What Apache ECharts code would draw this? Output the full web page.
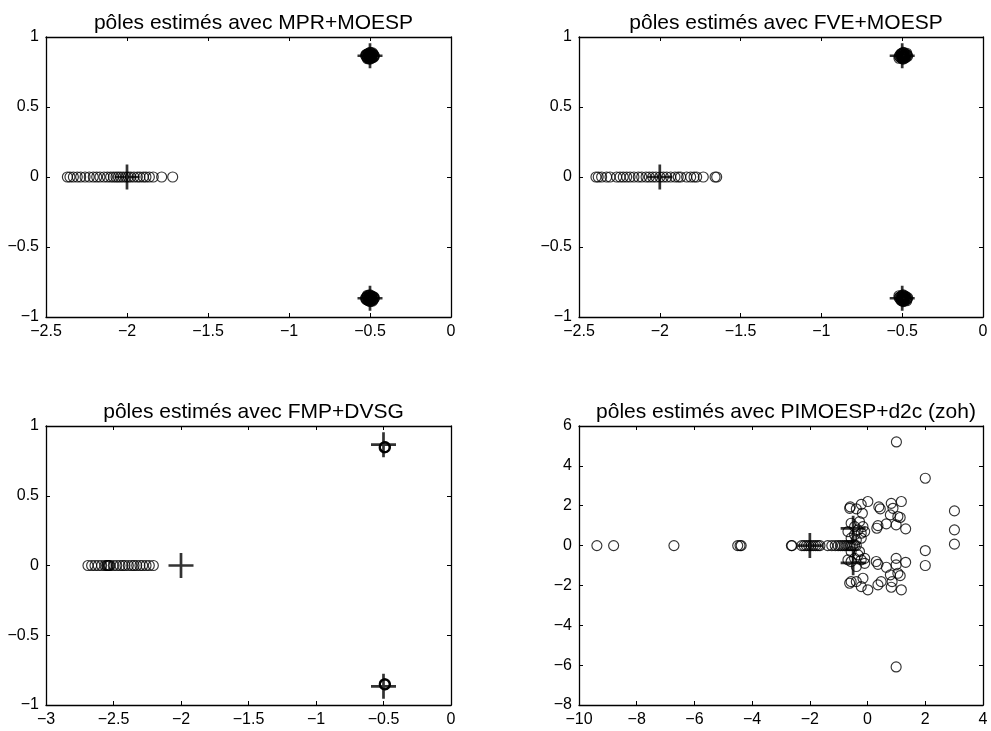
<!DOCTYPE html>
<html>
<head>
<meta charset="utf-8">
<script src="https://cdn.jsdelivr.net/npm/echarts@6/dist/echarts.min.js"></script>
<style>
html, body { margin: 0; background: #fff; }
#chart { width: 991px; height: 731px; }
</style>
</head>
<body>
<div id="chart"></div>
<script>
// poles vrais du systeme
const polesVrais = [[-2, 0], [-0.5, 0.866], [-0.5, -0.866]]

const titres = [
    'pôles estimés avec MPR+MOESP',
    'pôles estimés avec FVE+MOESP',
    'pôles estimés avec FMP+DVSG',
    'pôles estimés avec PIMOESP+d2c (zoh)'
]

// MPR+MOESP
const mprReels = [-2.368, -2.352, -2.331, -2.307, -2.286, -2.259, -2.233, -2.208, -2.187, -2.167,
    -2.142, -2.121, -2.101, -2.084, -2.068, -2.054, -2.039, -2.023, -2.006, -1.992,
    -1.977, -1.957, -1.936, -1.920, -1.899, -1.883, -1.862, -1.838, -1.786, -1.718]
const mprComplexes = [
    [-0.500, 0.866], [-0.506, 0.873], [-0.494, 0.859], [-0.513, 0.866], [-0.488, 0.866], [-0.500, 0.880],
    [-0.500, 0.852], [-0.519, 0.873], [-0.481, 0.859], [-0.506, 0.845], [-0.494, 0.887], [-0.513, 0.880],
    [-0.488, 0.852], [-0.525, 0.862], [-0.475, 0.870], [-0.506, 0.859], [-0.494, 0.873], [-0.519, 0.855],
    [-0.481, 0.877], [-0.500, 0.890], [-0.500, 0.842], [-0.513, 0.852], [-0.488, 0.880], [-0.527, 0.870],
    [-0.473, 0.862], [-0.509, 0.884], [-0.491, 0.848], [-0.516, 0.845], [-0.484, 0.887], [-0.497, 0.869],
    [-0.503, 0.863], [-0.522, 0.877], [-0.478, 0.855],
    [-0.500, -0.866], [-0.506, -0.873], [-0.494, -0.859], [-0.513, -0.866], [-0.488, -0.866], [-0.500, -0.880],
    [-0.500, -0.852], [-0.519, -0.873], [-0.481, -0.859], [-0.506, -0.845], [-0.494, -0.887], [-0.513, -0.880],
    [-0.488, -0.852], [-0.525, -0.862], [-0.475, -0.870], [-0.506, -0.859], [-0.494, -0.873], [-0.519, -0.855],
    [-0.481, -0.877], [-0.500, -0.890], [-0.500, -0.842], [-0.513, -0.852], [-0.488, -0.880], [-0.527, -0.868],
    [-0.473, -0.862], [-0.509, -0.884], [-0.491, -0.848], [-0.516, -0.845], [-0.484, -0.887], [-0.497, -0.869],
    [-0.503, -0.863], [-0.522, -0.877], [-0.478, -0.855]
]

// FVE+MOESP
const fveReels = [-2.395, -2.381, -2.360, -2.329, -2.308, -2.267, -2.246, -2.226, -2.205, -2.184,
    -2.160, -2.133, -2.112, -2.085, -2.065, -2.044, -2.024, -1.999, -1.978, -1.957,
    -1.933, -1.906, -1.886, -1.871, -1.834, -1.809, -1.788, -1.772, -1.731, -1.658, -1.648]
const fveComplexes = [
    [-0.494, 0.866], [-0.500, 0.873], [-0.488, 0.859], [-0.506, 0.866], [-0.481, 0.866], [-0.494, 0.880],
    [-0.494, 0.852], [-0.513, 0.873], [-0.475, 0.859], [-0.500, 0.845], [-0.488, 0.887], [-0.506, 0.880],
    [-0.481, 0.852], [-0.519, 0.862], [-0.469, 0.870], [-0.500, 0.859], [-0.488, 0.873], [-0.513, 0.855],
    [-0.475, 0.877], [-0.494, 0.890], [-0.494, 0.842], [-0.507, 0.852], [-0.482, 0.880], [-0.520, 0.848],
    [-0.466, 0.862], [-0.503, 0.884], [-0.485, 0.848], [-0.472, 0.884], [-0.491, 0.869], [-0.497, 0.863],
    [-0.494, -0.866], [-0.500, -0.873], [-0.488, -0.859], [-0.506, -0.866], [-0.481, -0.866], [-0.494, -0.880],
    [-0.494, -0.852], [-0.513, -0.873], [-0.475, -0.859], [-0.500, -0.845], [-0.488, -0.887], [-0.506, -0.880],
    [-0.481, -0.852], [-0.519, -0.862], [-0.469, -0.870], [-0.500, -0.859], [-0.488, -0.873], [-0.513, -0.855],
    [-0.475, -0.877], [-0.494, -0.890], [-0.494, -0.842], [-0.507, -0.852], [-0.482, -0.880], [-0.520, -0.848],
    [-0.466, -0.862], [-0.503, -0.884], [-0.485, -0.848], [-0.472, -0.884], [-0.491, -0.869], [-0.497, -0.863]
]

// FMP+DVSG
const fmpReels = [-2.689, -2.662, -2.637, -2.613, -2.588, -2.563, -2.551, -2.545, -2.538, -2.532,
    -2.526, -2.501, -2.476, -2.452, -2.432, -2.415, -2.390, -2.365, -2.348, -2.328,
    -2.304, -2.284, -2.259, -2.235, -2.205]
const fmpComplexes = [
    [-0.49, 0.848], [-0.495, 0.843], [-0.487, 0.852], [-0.492, 0.846], [-0.489, 0.85], [-0.486, 0.845],
    [-0.494, 0.851],
    [-0.49, -0.852], [-0.494, -0.848], [-0.487, -0.856], [-0.491, -0.85], [-0.489, -0.854], [-0.486, -0.849],
    [-0.494, -0.855]
]

// PIMOESP+d2c (zoh)
const pimReels = [-9.38, -8.80, -6.71, -4.50, -4.42, -4.38, -2.64, -2.62, -2.28, -2.20,
    -2.12, -2.04, -1.96, -1.88, -1.80, -1.72, -1.65, -1.38, -1.24, -1.12, -1.02, -0.94,
    -0.87, -0.80, -0.74, -0.68, -0.62, -0.57, -0.51, -0.45, -0.39]
const pimComplexes = [
    [1.0, 5.2], [2.0, 3.38], [3.01, 1.74], [3.01, 0.79], [3.01, 0.07], [2.0, -0.25], [2.0, -1.0], [0.99, -6.09],
    [-0.62, 1.87], [-0.60, 1.94], [-0.39, 1.84], [-0.22, 2.07], [-0.18, 1.62], [0.01, 2.21],
    [0.39, 1.94], [0.44, 1.84], [0.32, 0.87], [0.36, 1.0], [0.65, 1.09], [0.82, 2.12],
    [0.88, 1.87], [0.79, 1.54], [1.05, 1.46], [1.13, 1.41], [1.17, 2.21], [0.99, 1.04], [1.32, 0.84],
    [-0.57, 1.12], [-0.45, 0.95], [-0.33, 0.79], [-0.22, 0.62], [-0.16, 0.95], [-0.10, 0.70],
    [-0.28, 1.20], [-0.45, 0.54], [-0.57, 0.37], [-0.39, 0.28], [-0.22, 0.37], [-0.68, 0.70],
    [-0.62, -1.89], [-0.57, -1.81], [-0.39, -1.81], [-0.22, -2.06], [-0.16, -1.64], [0.01, -2.22],
    [0.36, -1.97], [0.47, -1.81], [0.30, -0.80], [0.36, -0.94], [0.65, -1.09], [0.82, -2.09],
    [0.85, -1.81], [0.79, -1.47], [1.05, -1.39], [1.13, -1.51], [1.17, -2.22], [0.99, -0.64],
    [1.32, -0.84], [0.99, -0.97],
    [-0.57, -0.80], [-0.45, -0.64], [-0.33, -0.47], [-0.22, -0.72], [-0.10, -0.64], [-0.39, -1.05],
    [-0.57, -0.30], [-0.28, -0.30], [-0.68, -0.72], [-0.10, -0.89]
]

// axes de chaque sous-figure: [xmin, xmax, xpas, ymin, ymax, ypas]
const limites = [
    [-2.5, 0, 0.5, -1, 1, 0.5],
    [-2.5, 0, 0.5, -1, 1, 0.5],
    [-3, 0, 0.5, -1, 1, 0.5],
    [-10, 4, 2, -8, 6, 2]
]
const estimes = [
    [mprReels, mprComplexes],
    [fveReels, fveComplexes],
    [fmpReels, fmpComplexes],
    [pimReels, pimComplexes]
]

const grilles = [
    { left: 46, top: 37, width: 405, height: 280 },
    { left: 579, top: 37, width: 404, height: 280 },
    { left: 46, top: 426, width: 405, height: 279 },
    { left: 579, top: 426, width: 404, height: 279 }
]

const police = 'Liberation Sans, Arial, Helvetica, sans-serif'
const moins = v => String(v).replace('-', '\u2212')
const croix = 'path://M-1.3,-12L1.3,-12L1.3,-1.3L12,-1.3L12,1.3L1.3,1.3L1.3,12L-1.3,12L-1.3,1.3L-12,1.3L-12,-1.3L-1.3,-1.3Z'

let myChart = echarts.init(document.getElementById('chart'), null, {
    renderer: 'canvas'
})

function axe(gi, min, max, interval, position, label) {
    return {
        gridIndex: gi,
        type: 'value',
        min: min,
        max: max,
        interval: interval,
        position: position,
        axisLine: { show: true, onZero: false, lineStyle: { color: '#000', width: 1.3 } },
        axisTick: { show: true, inside: true, length: 4, lineStyle: { color: '#000', width: 1 } },
        axisLabel: {
            show: label,
            margin: 7,
            color: '#000',
            fontSize: 16,
            fontFamily: police,
            formatter: moins
        },
        splitLine: { show: false }
    }
}

let xAxes = []
let yAxes = []
let series = []
let titresOpt = []

grilles.forEach((g, i) => {
    let l = limites[i]
    xAxes.push(axe(i, l[0], l[1], l[2], 'bottom', true))
    xAxes.push(axe(i, l[0], l[1], l[2], 'top', false))
    yAxes.push(axe(i, l[3], l[4], l[5], 'left', true))
    yAxes.push(axe(i, l[3], l[4], l[5], 'right', false))

    let points = estimes[i][0].map(x => [x, 0]).concat(estimes[i][1])
    series.push({
        type: 'scatter',
        xAxisIndex: 2 * i,
        yAxisIndex: 2 * i,
        symbol: 'circle',
        symbolSize: 10,
        itemStyle: { color: 'rgba(0,0,0,0)', borderColor: '#000', borderWidth: 1.15 },
        silent: true,
        data: points
    })
    series.push({
        type: 'scatter',
        xAxisIndex: 2 * i,
        yAxisIndex: 2 * i,
        symbol: croix,
        symbolSize: 25,
        symbolKeepAspect: true,
        itemStyle: { color: '#000' },
        silent: true,
        data: polesVrais
    })

    titresOpt.push({
        text: titres[i],
        left: g.left + g.width / 2,
        top: i < 2 ? 8 : 397,
        textAlign: 'center',
        textStyle: { color: '#000', fontSize: 21, fontWeight: 'normal', fontFamily: police }
    })
})

myChart.setOption({
    backgroundColor: '#fff',
    animation: false,
    title: titresOpt,
    grid: grilles,
    xAxis: xAxes,
    yAxis: yAxes,
    series: series
})
</script>
</body>
</html>
